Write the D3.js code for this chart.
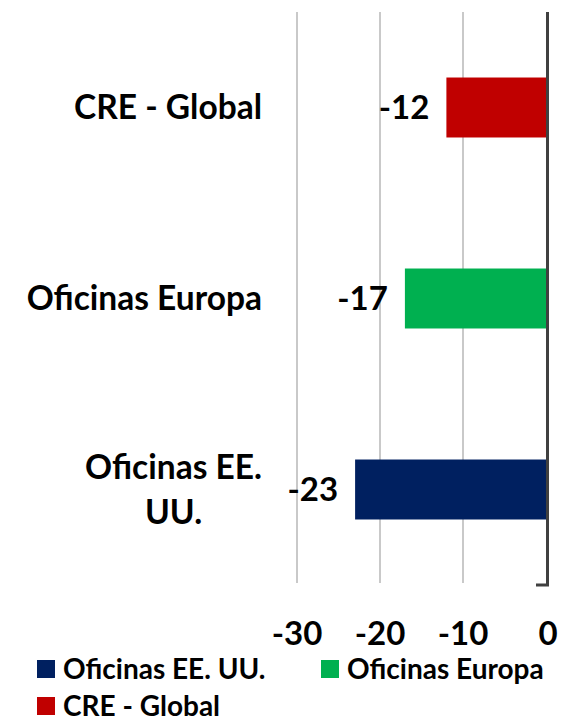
<!DOCTYPE html>
<html>
<head>
<meta charset="utf-8">
<script src="https://cdn.jsdelivr.net/npm/d3@7"></script>
<style>
  body { margin: 0; background: #fff; }
  svg text { font-family: Lato, "Open Sans", sans-serif; font-weight: 700; fill: #000; }
</style>
</head>
<body>
<div id="chart"></div>
<script>
// data
const categories = ["Oficinas EE. UU.", "Oficinas Europa", "CRE - Global"];
const catLabels = [["Oficinas EE.", "UU."], ["Oficinas Europa"], ["CRE - Global"]];
const values = [-23, -17, -12];
const colors = ["#002060", "#00B050", "#C00000"];
const xTicks = [-30, -20, -10, 0];

const W = 561, H = 721;
const plot = { left: 297, right: 546, top: 12, bottom: 585 };

const svg = d3.select("#chart").append("svg")
  .attr("width", W)
  .attr("height", H);

const x = d3.scaleLinear().domain([-30, 0]).range([plot.left, plot.right]);

// top category at top
const y = d3.scaleBand()
  .domain(categories.slice().reverse())
  .range([plot.top, plot.bottom])
  .paddingInner(0.686)
  .paddingOuter(0.343);

// gridlines
svg.append("g")
  .selectAll("line")
  .data(xTicks.filter(d => d !== 0))
  .join("line")
  .attr("x1", d => x(d)).attr("x2", d => x(d))
  .attr("y1", plot.top).attr("y2", plot.bottom - 2)
  .attr("stroke", "#c9c9c9")
  .attr("stroke-width", 2);

// bars
svg.append("g")
  .selectAll("rect")
  .data(categories)
  .join("rect")
  .attr("x", (d, i) => x(values[i]))
  .attr("y", d => y(d))
  .attr("width", (d, i) => x(0) - x(values[i]))
  .attr("height", y.bandwidth())
  .attr("fill", (d, i) => colors[i]);

// zero axis line with bottom tick
svg.append("path")
  .attr("d", `M${x(0) + 1.5},${plot.top} V${plot.bottom} H${x(0) - 10}`)
  .attr("fill", "none")
  .attr("stroke", "#404040")
  .attr("stroke-width", 3);

// value labels
svg.append("g")
  .selectAll("text")
  .data(categories)
  .join("text")
  .attr("x", (d, i) => x(values[i]) - 17)
  .attr("y", d => y(d) + y.bandwidth() / 2 + 11.5)
  .attr("text-anchor", "end")
  .style("font-size", "33px")
  .text((d, i) => values[i]);

// x tick labels
svg.append("g")
  .selectAll("text")
  .data(xTicks)
  .join("text")
  .attr("x", d => x(d) + (d === 0 ? 2 : 0))
  .attr("y", 645)
  .attr("text-anchor", "middle")
  .style("font-size", "33px")
  .text(d => d);

// category labels, lines centred on each other, block right aligned
const labelRight = 262;
categories.forEach((c, i) => {
  const lines = catLabels[i];
  const g = svg.append("g");
  const texts = g.selectAll("text")
    .data(lines)
    .join("text")
    .style("font-size", "33.5px")
    .text(d => d);
  const maxW = d3.max(texts.nodes(), n => n.getComputedTextLength());
  const lh = 45;
  const cy = y(c) + y.bandwidth() / 2;
  const firstBase = cy + 11.5 - (lines.length - 1) * lh / 2;
  texts
    .attr("x", labelRight - maxW / 2)
    .attr("text-anchor", "middle")
    .attr("y", (d, j) => firstBase + j * lh);
});

// legend
const legendItems = [
  { name: categories[0], color: colors[0], x: 37, y: 669 },
  { name: categories[1], color: colors[1], x: 321, y: 669 },
  { name: categories[2], color: colors[2], x: 37, y: 706 }
];
const lg = svg.append("g")
  .selectAll("g")
  .data(legendItems)
  .join("g")
  .attr("transform", d => `translate(${d.x},${d.y})`);
lg.append("rect")
  .attr("x", 0).attr("y", -9)
  .attr("width", 18).attr("height", 18)
  .attr("fill", d => d.color);
lg.append("text")
  .attr("x", 26)
  .attr("y", 9.5)
  .style("font-size", "28px")
  .text(d => d.name);
</script>
</body>
</html>
